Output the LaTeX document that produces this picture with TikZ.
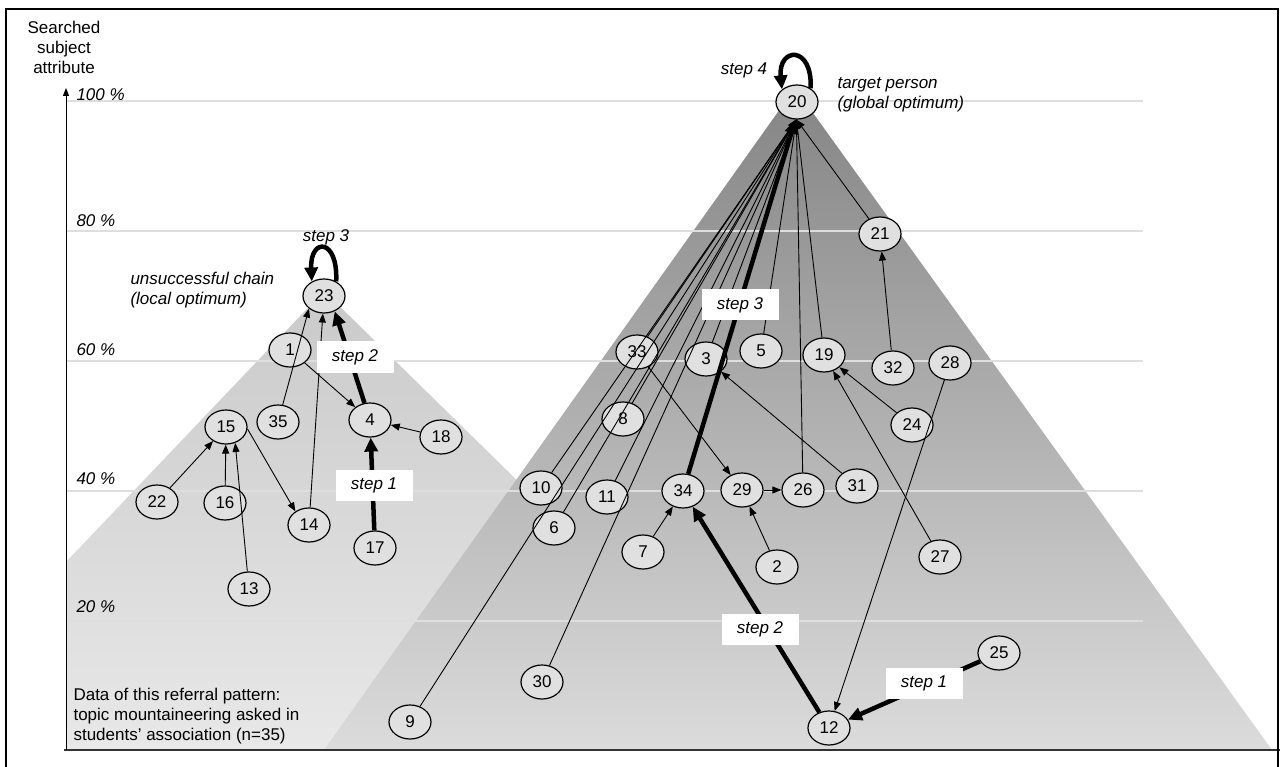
\documentclass[tikz,border=0pt]{standalone}
\usepackage{fontspec}
\setmainfont{Liberation Sans}
\usetikzlibrary{arrows.meta,shapes.geometric}
\definecolor{nodefill}{HTML}{E0E0E0}
\definecolor{gridc}{HTML}{DEDEDE}
\begin{document}
\begin{tikzpicture}[x=1pt,y=-1pt,
  every node/.style={font=\fontsize{17}{20}\selectfont},
  nd/.style={ellipse,draw=black,line width=1.2pt,fill=nodefill,minimum width=42pt,minimum height=34pt,inner sep=0pt},
  ln/.style={line width=0.9pt,-{Triangle[length=9pt,width=7pt]}},
  tk/.style={line width=4.5pt,-{Triangle[length=14pt,width=13pt]}},
  stepbox/.style={fill=white,minimum width=77pt,minimum height=31pt,inner sep=0pt,font=\fontsize{17}{20}\selectfont\itshape},
  lbl/.style={font=\fontsize{17}{20}\selectfont\itshape},
  txt/.style={font=\fontsize{17}{20}\selectfont}
]
\useasboundingbox (0,0) rectangle (1280,767);
\clip (0,0) rectangle (1280,767);
% background shading
\shade[top color=black!21, bottom color=black!9] (324,291) -- (66,562) -- (66,750) -- (792,750) -- cycle;
\shade[top color=black!48, bottom color=black!14] (795,88) -- (324,750) -- (1272,750) -- cycle;
% grid lines
\foreach \yy in {101,231,361,491,621} \draw[gridc, line width=1.2pt] (66,\yy) -- (1143,\yy);
% axes and frame
\draw[black!80, line width=2pt] (64,750) -- (1280,750);
\draw[line width=1pt, -{Triangle[length=8pt,width=6pt]}] (66,750) -- (66,88);
\draw[line width=2.6pt] (6,800) -- (6,9) -- (1278,9) -- (1278,800);
% axis labels
\node[txt, align=center] (ytitle) at (64,47) {Searched\\subject\\attribute};
\node[lbl, anchor=west] (p100) at (73,95) {100 \%};
\node[lbl, anchor=west] (p80) at (73,221) {80 \%};
\node[lbl, anchor=west] (p60) at (73,350) {60 \%};
\node[lbl, anchor=west] (p40) at (73,479) {40 \%};
\node[lbl, anchor=west] (p20) at (73,607) {20 \%};
% nodes left cluster
\node[nd] (n23) at (324,296) {23};
\node[nd] (n1) at (290,350) {1};
\node[nd] (n35) at (278,422) {35};
\node[nd] (n4) at (370,420) {4};
\node[nd] (n18) at (441,437) {18};
\node[nd] (n15) at (226,427) {15};
\node[nd] (n22) at (157,502) {22};
\node[nd] (n16) at (225,503) {16};
\node[nd] (n14) at (309,525) {14};
\node[nd] (n17) at (375,548) {17};
\node[nd] (n13) at (249,589) {13};
% nodes right cluster
\node[nd] (n20) at (797,102) {20};
\node[nd] (n21) at (880,234) {21};
\node[nd] (n33) at (637,352) {33};
\node[nd] (n3) at (706,359) {3};
\node[nd] (n5) at (761,351) {5};
\node[nd] (n19) at (824,355) {19};
\node[nd] (n32) at (893,368) {32};
\node[nd] (n28) at (950,363) {28};
\node[nd] (n8) at (623,419) {8};
\node[nd] (n24) at (912,425) {24};
\node[nd] (n10) at (541,488) {10};
\node[nd] (n11) at (607,497) {11};
\node[nd] (n34) at (683,491) {34};
\node[nd] (n29) at (742,490) {29};
\node[nd] (n26) at (803,490) {26};
\node[nd] (n31) at (857,486) {31};
\node[nd] (n6) at (554,528) {6};
\node[nd] (n7) at (643,552) {7};
\node[nd] (n2) at (777,567) {2};
\node[nd] (n27) at (940,557) {27};
\node[nd] (n30) at (542,682) {30};
\node[nd] (n9) at (410,722) {9};
\node[nd] (n12) at (829,728) {12};
\node[nd] (n25) at (999,653) {25};
% edges left cluster
\draw[ln] (n1) -- (n4);
\draw[ln] (n35) -- (n23.-140);
\draw[ln] (n14) -- (n23);
\draw[ln] (n18) -- (n4);
\draw[ln] (n22) -- (n15);
\draw[ln] (n16) -- (n15);
\draw[ln] (n13) -- (n15.-60);
\draw[ln] (n15.-5) -- (n14.135);
\draw[tk] (n17) -- (n4);
\draw[tk] (n4) -- (n23.-55);
\draw[tk] (n23.50) .. controls +(2,-44) and +(-2,-44) .. (n23.130);
% edges right cluster
\foreach \s in {9,10,33,6,8,30,11,3,5,26,19,21} \draw[ln] (n\s) -- (n20.-92);
\draw[ln] (n32) -- (n21);
\draw[ln] (n33) -- (n29);
\draw[ln] (n29) -- (n26);
\draw[ln] (n2) -- (n29);
\draw[ln] (n7) -- (n34);
\draw[ln] (n31) -- (n3);
\draw[ln] (n24) -- (n19);
\draw[ln] (n27) -- (n19);
\draw[ln] (n28) -- (n12);
\draw[tk] (n34) -- (n20.-95);
\draw[tk] (n12) -- (n34);
\draw[tk] (n25) -- (n12);
\draw[tk] (n20.45) .. controls +(2,-44) and +(-4,-42) .. (n20.140);
% step labels
\node[stepbox] (s2a) at (355,357) {step 2};
\node[stepbox] (s1a) at (374,485) {step 1};
\node[stepbox] (s3b) at (740,305) {step 3};
\node[stepbox] (s2b) at (760,629) {step 2};
\node[stepbox] (s1b) at (924,683) {step 1};
\node[lbl] (s3a) at (326,237) {step 3};
\node[lbl] (s4) at (744,70) {step 4};
% texts
\node[lbl, anchor=west, align=left] (local) at (127,290) {unsuccessful chain\\(local optimum)};
\node[lbl, anchor=west, align=left] (global) at (834,95) {target person\\(global optimum)};
\node[txt, anchor=west, align=left] (data) at (70,716) {Data of this referral pattern:\\topic mountaineering asked in\\students' association (n=35)};
\end{tikzpicture}
\end{document}
